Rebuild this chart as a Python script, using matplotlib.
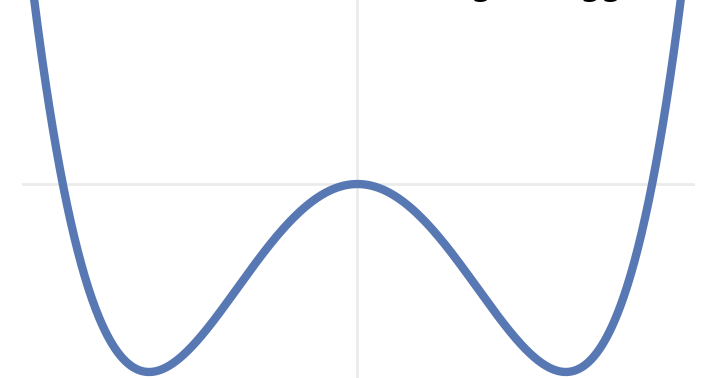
import numpy as np
import matplotlib.pyplot as plt

# double-well potential V(x) = x^4 - 2x^2
x_min, x_max = -1.61, 1.62
y_min, y_max = -1.032, 0.979
line_color = '#5878b4'
grid_color = '#ebebeb'

x = np.linspace(-1.7, 1.7, 800)
v = x**4 - 2 * x**2

fig = plt.figure(figsize=(7.01, 3.78), dpi=100)
ax = fig.add_axes([22 / 701, 0, 673 / 701, 1])

ax.axhline(0, color=grid_color, lw=2, zorder=1)
ax.axvline(0, color=grid_color, lw=2, zorder=1)
ax.plot(x, v, color=line_color, lw=6, solid_capstyle='round', zorder=2)

ax.set_xlim(x_min, x_max)
ax.set_ylim(y_min, y_max)
ax.axis('off')

# title mostly cut off by the top edge, only descenders show
fig.text(493 / 701, 1 + 4 / 378, 'Big', ha='right', va='baseline',
         fontsize=21, fontweight='bold', color='black')
fig.text(546 / 701, 1 + 4 / 378, 'Higgs', ha='left', va='baseline',
         fontsize=21, fontweight='bold', color='black')

fig.savefig('out.png', dpi=100)
